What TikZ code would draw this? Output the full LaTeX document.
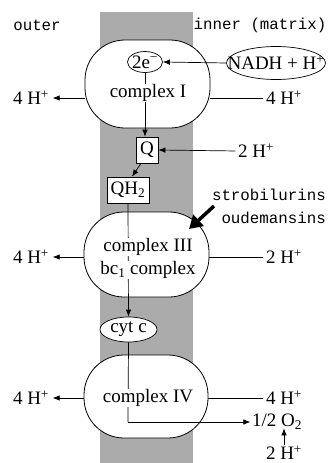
\documentclass[tikz,border=0pt]{standalone}
\usepackage{fontspec}
\setmainfont{Liberation Serif}
\setmonofont{Liberation Mono}
\usetikzlibrary{arrows.meta,shapes.geometric}
\begin{document}
\begin{tikzpicture}[x=1pt,y=-1pt,
  lbl/.style={font=\fontsize{19}{22}\selectfont, inner sep=0.5pt},
  wlbl/.style={lbl, fill=white},
  tt/.style={font=\fontsize{15.8}{23}\ttfamily\selectfont, inner sep=0pt},
  cplx/.style={draw, line width=0.8pt, fill=white, rounded corners=40pt, minimum width=125pt, minimum height=86pt},
  oval/.style={draw, line width=0.7pt, ellipse, fill=white, inner sep=0pt},
  sqbox/.style={draw, line width=0.7pt, fill=white, inner sep=0pt, font=\fontsize{19}{22}\selectfont},
  conn/.style={line width=0.7pt},
  arr/.style={conn, -{Latex[length=7pt,width=5.5pt]}}
]
\useasboundingbox (0,0) rectangle (328,463);
% membrane
\fill[black!33] (100,12) rectangle (193,463);
\node[tt] (outer) at (37,25) {outer};
\node[tt] (inner) at (260,25) {inner (matrix)};
% complexes
\node[cplx, minimum height=88pt] (c1) at (147.5,84) {};
\node[cplx, minimum height=85pt] (c3) at (146.5,254.5) {};
\node[cplx, minimum height=83pt, minimum width=124pt] (c4) at (146,396.5) {};
% small nodes
\node[oval, minimum width=35pt, minimum height=21pt] (e2) at (145,62) {};
\node[lbl] (e2t) at (145,62) {2e\textsuperscript{\textminus}};
\node[oval, minimum width=99pt, minimum height=33pt] (nadh) at (276,63) {};
\node[lbl] (nadht) at (276,63) {NADH + H\textsuperscript{+}};
\node[sqbox, minimum width=22pt, minimum height=26pt] (q) at (147,150) {Q};
\node[sqbox, minimum width=42pt, minimum height=26pt] (qh2) at (128,190) {QH\textsubscript{2}};
\node[oval, minimum width=57pt, minimum height=25pt] (cytc) at (128.5,329.5) {};
\node[lbl] (cytct) at (128.5,329) {cyt c};
% H+ labels
\node[lbl] (h1l) at (31,98) {4 H\textsuperscript{+}};
\node[lbl] (h1r) at (284,98) {4 H\textsuperscript{+}};
\node[lbl] (hq) at (256,151) {2 H\textsuperscript{+}};
\node[lbl] (h3l) at (31,257) {4 H\textsuperscript{+}};
\node[lbl] (h3r) at (284,257) {2 H\textsuperscript{+}};
\node[lbl] (h4l) at (31,398) {4 H\textsuperscript{+}};
\node[lbl] (h4r) at (284,398) {4 H\textsuperscript{+}};
\node[lbl] (o2) at (277,422) {1/2 O\textsubscript{2}};
\node[lbl] (h4b) at (284,453) {2 H\textsuperscript{+}};
\node[tt, align=right, anchor=east] (strob) at (326,206) {strobilurins\\oudemansins};
\coordinate (sA) at (214,206);
\coordinate (sB) at (189,229);
\coordinate (bend) at (128,422);
% connectors
\draw[arr] (nadh.west) -- (e2.east);
\draw[arr] (e2.south) -- (e2.south |- q.north);
\draw[arr, shorten <=2pt] (hq.west) -- (q.east);
\draw[arr] ([xshift=-6pt]q.south) -- ([xshift=4pt]qh2.north);
\draw[arr] (qh2.south) -- (cytc.north);
\draw[conn] (cytc.south) -- (bend);
\draw[arr] (bend) -- ([xshift=-1pt]o2.west);
\draw[arr] (h4b.north) -- ([yshift=2pt]h4b.north |- o2.south);
\draw[arr, shorten >=3pt] (c1.west |- h1l) -- (h1l.east);
\draw[conn, shorten >=2pt] (c1.east |- h1r) -- (h1r.west);
\draw[arr, shorten >=3pt] (c3.west |- h3l) -- (h3l.east);
\draw[conn, shorten >=2pt] (c3.east |- h3r) -- (h3r.west);
\draw[arr, shorten >=3pt] (c4.west |- h4l) -- (h4l.east);
\draw[conn, shorten >=2pt] (c4.east |- h4r) -- (h4r.west);
\draw[line width=3.5pt, -{Triangle[length=13pt,width=15pt]}] (sA) -- (sB);
% complex texts (cover lines)
\node[wlbl] (t1) at (148,93) {complex I};
\node[wlbl] (t3a) at (148,247) {complex III};
\node[wlbl] (t3b) at (148,270) {bc\textsubscript{1} complex};
\node[wlbl] (t4) at (148,398) {complex IV};
\end{tikzpicture}
\end{document}
